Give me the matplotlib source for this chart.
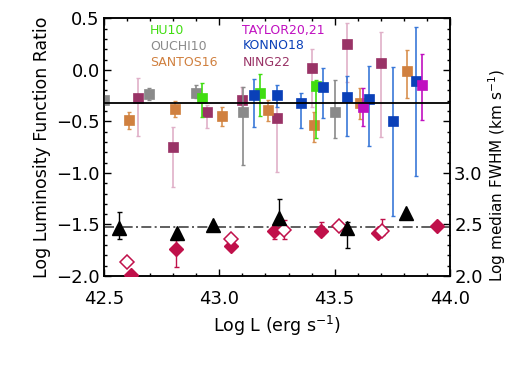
import matplotlib
matplotlib.use("Agg")
import matplotlib.pyplot as plt
from matplotlib.ticker import MultipleLocator, FixedLocator
import numpy as np

plt.rcParams['font.family'] = ['DejaVu Sans']

# ---------------- data: upper panel (Log LF ratio) ----------------
hu_x = [42.923, 43.176, 43.42]
hu_y = [-0.276, -0.228, -0.157]
hu_lo = [-0.454, -0.445, -0.664]
hu_hi = [-0.125, -0.043, -0.098]

ouchi_x = [42.50, 42.696, 42.90, 43.101, 43.501]
ouchi_y = [-0.29, -0.237, -0.222, -0.406, -0.406]
ouchi_lo = [-0.33, -0.29, -0.27, -0.92, -0.658]
ouchi_hi = [-0.25, -0.173, -0.147, -0.17, -0.098]

santos_x = [42.61, 42.809, 43.01, 43.21, 43.41, 43.61, 43.812]
santos_y = [-0.486, -0.38, -0.448, -0.389, -0.535, -0.319, -0.008]
santos_lo = [-0.577, -0.46, -0.545, -0.50, -0.697, -0.48, -0.27]
santos_hi = [-0.406, -0.30, -0.357, -0.29, -0.406, -0.179, 0.193]

taylor_x = [43.624, 43.877]
taylor_y = [-0.357, -0.147]
taylor_lo = [-0.545, -0.486]
taylor_hi = [-0.179, 0.151]

konno_x = [43.152, 43.249, 43.354, 43.451, 43.552, 43.65, 43.752, 43.853]
konno_y = [-0.244, -0.244, -0.325, -0.163, -0.26, -0.286, -0.496, -0.108]
konno_lo = [-0.557, -0.36, -0.567, -0.47, -0.641, -0.739, -1.417, -1.03]
konno_hi = [-0.089, -0.147, -0.228, 0.018, -0.06, 0.033, 0.025, 0.412]

ning_x = [42.649, 42.798, 42.948, 43.10, 43.249, 43.40, 43.552, 43.70]
ning_y = [-0.27, -0.745, -0.406, -0.292, -0.47, 0.015, 0.251, 0.064]
ning_lo = [-0.641, -1.133, -0.567, -0.41, -0.99, -0.357, -0.115, -0.654]
ning_hi = [-0.076, -0.551, -0.341, -0.17, -0.22, 0.199, 0.452, 0.364]

mean_ratio = -0.32

# ---------------- data: lower panel (Log median FWHM) ----------------
tri_x = [42.566, 42.818, 42.971, 43.26, 43.552, 43.809]
tri_y = [2.463, 2.42, 2.495, 2.56, 2.463, 2.615]
tri_lo = [2.359, 2.42, 2.495, 2.495, 2.269, 2.615]
tri_hi = [2.624, 2.42, 2.495, 2.744, 2.527, 2.615]

fd_x = [42.617, 42.813, 43.049, 43.235, 43.44, 43.689, 43.942]
fd_y = [2.01, 2.263, 2.291, 2.44, 2.44, 2.415, 2.485]
fd_lo = [2.01, 2.085, 2.26, 2.359, 2.40, 2.40, 2.485]
fd_hi = [2.01, 2.35, 2.32, 2.495, 2.527, 2.43, 2.485]

od_x = [42.598, 43.049, 43.28, 43.52, 43.704]
od_y = [2.139, 2.356, 2.447, 2.485, 2.44]
od_lo = [2.139, 2.33, 2.356, 2.485, 2.40]
od_hi = [2.139, 2.38, 2.544, 2.485, 2.553]

median_fwhm = 2.48

# ---------------- figure ----------------
fig = plt.figure(figsize=(5.18, 3.70), dpi=100)
ax = fig.add_axes([104/518, (370-276)/370, 346/518, 257.7/370])
ax2 = ax.twinx()

def sq(a, x, y, lo, hi, fc, ec, z):
    x = np.array(x); y = np.array(y)
    err = [y - np.array(lo), np.array(hi) - y]
    a.errorbar(x, y, yerr=err, fmt='none', ecolor=ec, elinewidth=1.2,
               capsize=1.5, capthick=1.0, zorder=z)
    a.plot(x, y, 's', ms=6.5, mfc=fc, mec=fc, mew=0.5, zorder=z + 0.5,
           clip_on=True)

sq(ax, ouchi_x, ouchi_y, ouchi_lo, ouchi_hi, '#8a8a8a', '#8a8a8a', 3)
sq(ax, santos_x, santos_y, santos_lo, santos_hi, '#d0803f', '#d8904f', 3)
sq(ax, ning_x, ning_y, ning_lo, ning_hi, '#993366', '#e0b0c8', 2)
sq(ax, hu_x, hu_y, hu_lo, hu_hi, '#40dd10', '#40dd10', 4)
sq(ax, konno_x, konno_y, konno_lo, konno_hi, '#0a40b8', '#3a78d8', 4)
sq(ax, taylor_x, taylor_y, taylor_lo, taylor_hi, '#c010c0', '#c010c0', 5)

ax.axhline(mean_ratio, color='black', lw=1.3, zorder=6)

# legend text
lx1, lx2 = 42.70, 43.10
fs_leg = 9
ax.text(lx1, 0.38, 'HU10', color='#40dd10', fontsize=fs_leg, ha='left', va='center')
ax.text(lx1, 0.23, 'OUCHI10', color='#8a8a8a', fontsize=fs_leg, ha='left', va='center')
ax.text(lx1, 0.07, 'SANTOS16', color='#d0803f', fontsize=fs_leg, ha='left', va='center')
ax.text(lx2, 0.38, 'TAYLOR20,21', color='#c010c0', fontsize=fs_leg, ha='left', va='center')
ax.text(lx2, 0.24, 'KONNO18', color='#0a40b8', fontsize=fs_leg, ha='left', va='center')
ax.text(lx2, 0.07, 'NING22', color='#993366', fontsize=fs_leg, ha='left', va='center')

# lower panel on right axis
crim = '#c0104a'
ax2.axhline(median_fwhm, color='#444444', lw=1.2, ls='-.', dashes=(6, 2, 1.2, 2), zorder=1)
def er(a, x, y, lo, hi, c, z):
    y = np.array(y)
    a.errorbar(x, y, yerr=[y - np.array(lo), np.array(hi) - y], fmt='none',
               ecolor=c, elinewidth=1.0, capsize=1.8, capthick=1.0, zorder=z)
er(ax2, fd_x, fd_y, fd_lo, fd_hi, crim, 2)
er(ax2, od_x, od_y, od_lo, od_hi, crim, 2)
er(ax2, tri_x, tri_y, tri_lo, tri_hi, 'black', 2)
ax2.plot(fd_x, fd_y, 'D', ms=7, mfc=crim, mec=crim, zorder=3)
ax2.plot(od_x, od_y, 'D', ms=7, mfc='white', mec=crim, mew=1.1, zorder=3)
ax2.plot(tri_x, tri_y, '^', ms=9.5, mfc='black', mec='black', zorder=4)

# axes styling
ax.set_xlim(42.5, 44.0)
ax.set_ylim(-2.0, 0.5)
ax2.set_ylim(2.0, 4.5)

for a in (ax, ax2):
    for s in a.spines.values():
        s.set_linewidth(1.1)

ax.xaxis.set_major_locator(FixedLocator([42.5, 43.0, 43.5, 44.0]))
ax.xaxis.set_minor_locator(MultipleLocator(0.1))
ax.set_xticklabels(['42.5', '43.0', '43.5', '44.0'])
ax.yaxis.set_major_locator(FixedLocator([0.5, 0.0, -0.5, -1.0, -1.5, -2.0]))
ax.set_yticklabels(['0.5', '0.0', '\u22120.5', '\u22121.0', '\u22121.5', '\u22122.0'])
ax.yaxis.set_minor_locator(MultipleLocator(0.1))
ax.tick_params(axis='both', which='both', direction='in', top=True, right=False,
               labelsize=13)
ax.tick_params(axis='both', which='major', length=5, width=1.0)
ax.tick_params(axis='both', which='minor', length=2.5, width=1.0)
ax.tick_params(axis='x', which='major', pad=10)
ax.tick_params(axis='y', which='major', pad=3)

ax2.yaxis.set_major_locator(FixedLocator([2.0, 2.5, 3.0, 3.5, 4.0, 4.5]))
ax2.set_yticklabels(['2.0', '2.5', '3.0', '', '', ''])
ax2.yaxis.set_minor_locator(MultipleLocator(0.1))
ax2.tick_params(axis='y', which='both', direction='in', labelsize=13, pad=3)
ax2.tick_params(axis='y', which='major', length=5, width=1.0)
ax2.tick_params(axis='y', which='minor', length=2.5, width=1.0)

ax.set_xlabel('Log L (erg s$^{-1}$)', fontsize=12.5, labelpad=4)
ax.set_ylabel('Log Luminosity Function Ratio', fontsize=12.5, labelpad=4)
ax2.set_ylabel('Log median FWHM (km s$^{-1}$)', fontsize=11, labelpad=6,
               va='center')
ax2.yaxis.set_label_coords(1.135, 0.39)

fig.savefig('out.png', dpi=100)
